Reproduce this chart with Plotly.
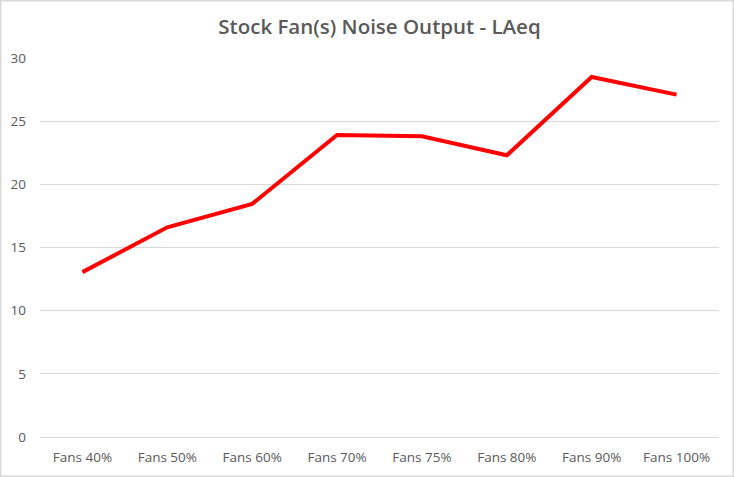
import plotly.graph_objects as go

categories = ["Fans 40%", "Fans 50%", "Fans 60%", "Fans 70%", "Fans 75%", "Fans 80%", "Fans 90%", "Fans 100%"]
laeq = [13.05, 16.6, 18.45, 23.9, 23.8, 22.3, 28.5, 27.1]
y_ticks = [0, 5, 10, 15, 20, 25, 30]
title_text = "Stock Fan(s) Noise Output - LAeq"

W, H = 734, 477
L, R, T, B = 40, 15, 58, 40
pw, ph = W - L - R, H - T - B

fig = go.Figure()
fig.add_trace(go.Scatter(
    x=categories, y=laeq, mode="lines",
    line=dict(color="#FF0000", width=4),
    hoverinfo="x+y",
))

tick_font = dict(family="Open Sans, sans-serif", size=13.5, color="#595959")

fig.update_layout(
    width=W, height=H,
    margin=dict(l=L, r=R, t=T, b=B, autoexpand=False),
    paper_bgcolor="white", plot_bgcolor="white",
    showlegend=False,
    font=dict(family="Open Sans, sans-serif", color="#595959", size=13),
    title=dict(text=title_text, x=0.5, xanchor="center", xref="paper",
               y=1 - 27 / H, yanchor="middle", yref="container",
               font=dict(family="Open Sans, sans-serif", size=20.5, color="#595959", weight=600)),
    xaxis=dict(
        type="category", range=[-0.5, len(categories) - 0.5],
        showgrid=False, showline=False, zeroline=False, automargin=False,
        ticks="", ticklabelstandoff=10, tickfont=tick_font,
        fixedrange=True,
    ),
    yaxis=dict(
        range=[0, 30], tickvals=y_ticks, showgrid=True, gridcolor="#D9D9D9", gridwidth=1,
        zeroline=True, zerolinecolor="#D9D9D9", zerolinewidth=1, showline=False,
        automargin=False,
        ticks="", ticklabelstandoff=13, tickfont=tick_font,
        fixedrange=True,
    ),
    shapes=[dict(
        type="rect", xref="paper", yref="paper",
        x0=(-L + 0.75) / pw, x1=1 + (R - 0.75) / pw,
        y0=(-B + 0.75) / ph, y1=1 + (T - 0.75) / ph,
        line=dict(color="#D9D9D9", width=1.5), fillcolor="rgba(0,0,0,0)", layer="below",
    )],
)

fig.write_html(
    "out.html",
    config={"displayModeBar": False},
    post_script="document.body.style.margin='0';document.body.style.overflow='hidden';",
)
